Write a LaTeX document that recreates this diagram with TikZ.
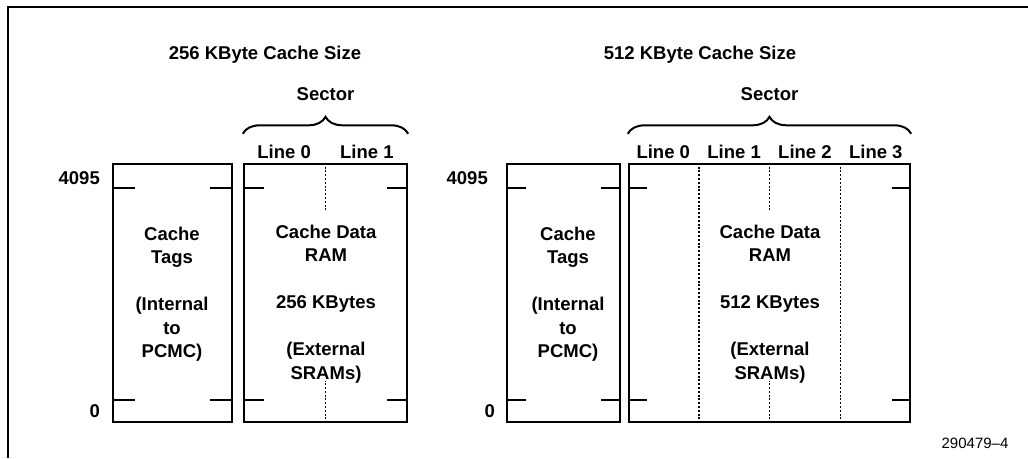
\documentclass[tikz,border=0pt]{standalone}
\usepackage{fontspec}
\setmainfont{Liberation Sans}
\usetikzlibrary{positioning,calc,decorations.pathreplacing}

\begin{document}
\begin{tikzpicture}[x=1pt, y=-1pt,
    box/.style={draw, line width=2.4pt, rectangle, minimum height=258pt, inner sep=0pt},
    lbl/.style={font=\fontsize{18.5}{23.5}\selectfont\bfseries, align=center, inner sep=0pt},
    tick/.style={line width=2.4pt},
    divider/.style={line width=1.7pt, dash pattern=on 2pt off 1.8pt},
    sector/.style={decorate, decoration={brace, amplitude=17pt}, line width=2pt},
]
\useasboundingbox (0,0) rectangle (1028,458);

% Frame
\draw[line width=2pt] (8,458) -- (8,7) -- (1028,7);

% 256 KByte panel
\node[lbl] (titleA) at (265,55) {256 KByte Cache Size};
\node[box, minimum width=119pt] (tagsA) at (172.5,293) {};
\node[box, minimum width=163pt] (dataA) at (325.5,293) {};
\node[lbl] (tagsAtxt) at (172,294) {Cache\\Tags\\[23.5pt](Internal\\to\\PCMC)};
\node[lbl] (dataAtxt) at (326,304) {Cache Data\\RAM\\[23.5pt]256 KBytes\\[23.5pt](External\\SRAMs)};
\node[lbl, anchor=east] (topA) at (100,178) {4095};
\node[lbl, anchor=east] (botA) at (100,411) {0};
\draw[divider] (dataA.north) -- ++(0,49);
\draw[divider] (dataA.south) -- ++(0,-42);
\foreach \i/\f in {0/0.25, 1/0.75}
  \node[lbl] (lineA\i) at ($(dataA.north west)!\f!(dataA.north east)+(0,-11)$) {Line \i};
\draw[sector] ($(dataA.north west)+(0,-29)$) -- ($(dataA.north east)+(0,-29)$)
    node[midway, lbl, above=32pt] (sectorA) {Sector};

% 512 KByte panel
\node[lbl] (titleB) at (700,55) {512 KByte Cache Size};
\node[box, minimum width=113pt] (tagsB) at (563.5,293) {};
\node[box, minimum width=281pt] (dataB) at (769.5,293) {};
\node[lbl] (tagsBtxt) at (568,294) {Cache\\Tags\\[23.5pt](Internal\\to\\PCMC)};
\node[lbl] (dataBtxt) at (770,304) {Cache Data\\RAM\\[23.5pt]512 KBytes\\[23.5pt](External\\SRAMs)};
\node[lbl, anchor=east] (topB) at (488,178) {4095};
\node[lbl, anchor=east] (botB) at (495,411) {0};
\foreach \f in {0.25, 0.75}
  \draw[divider] ($(dataB.north west)!\f!(dataB.north east)$) -- ($(dataB.south west)!\f!(dataB.south east)$);
\draw[divider] (dataB.north) -- ++(0,49);
\draw[divider] (dataB.south) -- ++(0,-42);
\foreach \i/\f in {0/0.125, 1/0.375, 2/0.625, 3/0.875}
  \node[lbl] (lineB\i) at ($(dataB.north west)!\f!(dataB.north east)+(0,-11)$) {Line \i};
\draw[sector] ($(dataB.north west)+(0,-29)$) -- ($(dataB.north east)+(0,-29)$)
    node[midway, lbl, above=32pt] (sectorB) {Sector};

% Tick marks at 4095 and 0
\foreach \b/\w in {tagsA/23, dataA/21, tagsB/20, dataB/19} {
  \draw[tick] (\b.north west) ++(0,25) -- ++(\w,0);
  \draw[tick] (\b.north east) ++(0,25) -- ++(-\w,0);
  \draw[tick] (\b.south west) ++(0,-23) -- ++(\w,0);
  \draw[tick] (\b.south east) ++(0,-23) -- ++(-\w,0);
}

\node[font=\fontsize{15}{18}\selectfont] (figno) at (975,443) {290479--4};
\end{tikzpicture}
\end{document}
